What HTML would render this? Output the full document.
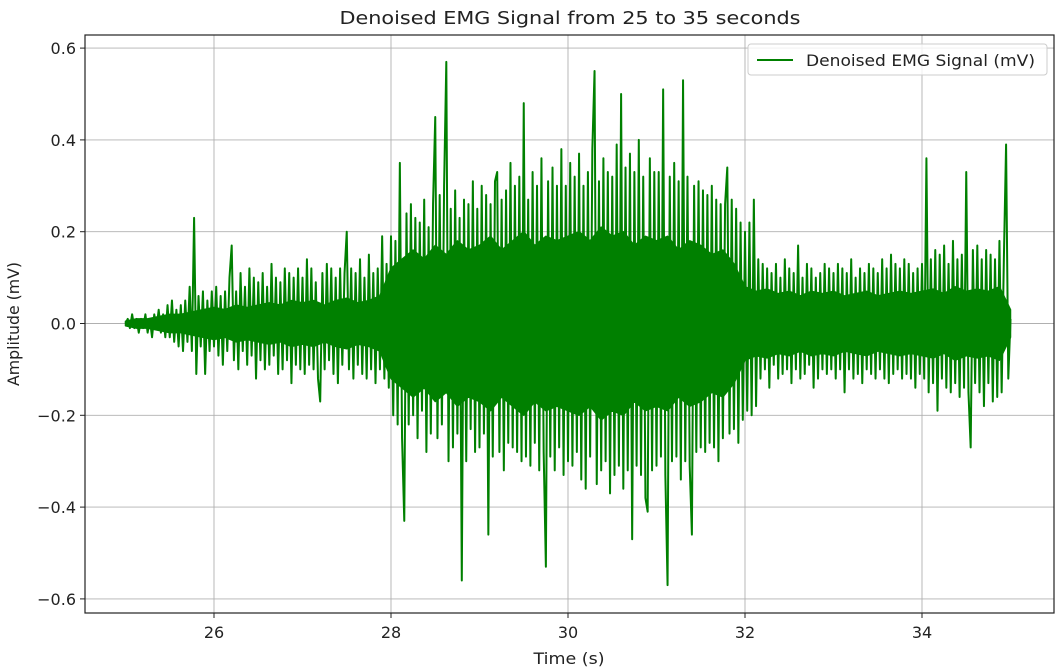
<!DOCTYPE html>
<html><head><meta charset="utf-8"><style>
body{margin:0;background:#fff;}
svg text{font-family:"DejaVu Sans","Liberation Sans",sans-serif;fill:#222;}
</style></head><body>
<svg id="chart" width="1060" height="667" viewBox="0 0 1060 667" xmlns="http://www.w3.org/2000/svg">
<text x="570" y="24" font-size="18" text-anchor="middle" textLength="461" lengthAdjust="spacingAndGlyphs">Denoised EMG Signal from 25 to 35 seconds</text>
<g id="grid"></g>
<g id="plot"></g>
<rect x="85" y="35" width="969" height="578" fill="none" stroke="#222" stroke-width="1.2"/>
<g id="ticks"></g>
<text x="569" y="664" font-size="16" text-anchor="middle" textLength="71" lengthAdjust="spacingAndGlyphs">Time (s)</text>
<text transform="translate(19,324) rotate(-90)" font-size="16" text-anchor="middle" textLength="124" lengthAdjust="spacingAndGlyphs">Amplitude (mV)</text>
<g>
<rect x="748" y="44" width="299" height="31" rx="3" fill="#fff" fill-opacity="0.8" stroke="#ccc"/>
<line x1="757" y1="60" x2="793" y2="60" stroke="#008000" stroke-width="2"/>
<text x="806" y="66" font-size="16" textLength="229" lengthAdjust="spacingAndGlyphs">Denoised EMG Signal (mV)</text>
</g>
</svg>
<script>
const xTicks=[26,28,30,32,34];
const yTicks=[0.6,0.4,0.2,0.0,-0.2,-0.4,-0.6];
const tStart=25, tStep=0.025;
const bandStep=0.125;
const bandAmp=[
0.005,0.01,0.01,0.015,0.02,0.02,0.025,0.03,
0.035,0.03,0.04,0.035,0.04,0.045,0.04,0.05,
0.045,0.05,0.04,0.05,0.055,0.045,0.05,0.06,
0.12,0.14,0.16,0.14,0.17,0.15,0.18,0.16,
0.17,0.19,0.16,0.18,0.2,0.17,0.19,0.18,
0.19,0.2,0.18,0.21,0.19,0.2,0.17,0.19,
0.18,0.19,0.16,0.18,0.17,0.15,0.16,0.13,
0.08,0.07,0.075,0.065,0.07,0.06,0.07,0.065,
0.07,0.06,0.065,0.07,0.06,0.065,0.07,0.065,
0.07,0.075,0.065,0.08,0.07,0.075,0.07,0.08,
0.03];
const values=[
0,0.01,-0.01,0.02,-0.01,0.01,-0.02,0.01,-0.01,0.02,-0.02,0.01,-0.03,0.02,-0.01,0.03,-0.02,0.02,-0.03,0.04,
-0.03,0.05,-0.04,0.03,-0.05,0.04,-0.06,0.05,-0.04,0.08,-0.06,0.23,-0.11,0.06,-0.05,0.07,-0.11,0.05,-0.06,0.07,
-0.05,0.08,-0.07,0.06,-0.09,0.07,-0.06,0.1,0.17,-0.08,0.07,-0.1,0.11,-0.06,0.08,-0.09,0.12,-0.07,0.1,-0.12,
0.09,-0.08,0.11,-0.1,0.08,-0.09,0.13,-0.07,0.1,-0.11,0.09,-0.1,0.12,-0.08,0.11,-0.13,0.1,-0.09,0.12,-0.1,
0.1,-0.11,0.14,-0.09,0.12,-0.1,0.09,-0.12,-0.17,0.11,-0.1,0.13,-0.08,0.12,-0.11,0.1,-0.13,0.12,-0.09,0.11,
0.2,-0.1,0.12,-0.12,0.11,-0.09,0.14,-0.11,0.1,-0.12,0.15,-0.1,0.11,-0.13,0.12,-0.1,0.19,-0.12,0.13,-0.14,
0.19,-0.2,0.18,-0.22,0.35,-0.25,-0.43,0.24,-0.22,0.26,-0.2,0.23,-0.25,0.22,-0.19,0.27,-0.28,0.21,-0.24,0.26,
0.45,-0.25,0.28,-0.22,0.3,0.57,-0.3,0.25,-0.27,0.29,-0.24,0.23,-0.56,0.27,-0.3,0.26,-0.23,0.31,-0.28,0.25,
-0.27,0.3,-0.24,0.28,-0.46,0.26,-0.29,0.31,0.33,-0.28,0.27,-0.32,0.29,-0.26,0.35,-0.27,0.3,-0.28,0.32,-0.3,
0.48,-0.29,0.27,-0.31,0.33,-0.26,0.3,-0.32,0.36,-0.28,-0.53,0.31,-0.29,0.34,-0.32,0.3,-0.27,0.38,-0.33,0.3,
-0.3,0.35,-0.31,0.32,-0.28,0.37,-0.34,0.3,-0.36,0.33,-0.29,0.38,0.55,-0.35,0.31,-0.32,0.36,-0.3,0.33,-0.37,
0.32,-0.33,0.39,-0.31,0.5,-0.36,0.34,-0.32,0.37,-0.47,0.33,-0.31,0.4,-0.33,0.32,-0.38,-0.41,0.36,-0.32,0.33,
-0.31,0.33,-0.29,0.51,-0.33,-0.57,0.32,-0.3,0.35,-0.29,0.31,-0.34,0.53,-0.3,0.32,-0.31,-0.46,0.3,-0.28,0.31,
-0.27,0.29,-0.28,0.28,-0.26,0.3,-0.27,0.27,-0.3,0.26,-0.25,0.26,0.34,-0.24,0.27,-0.23,0.25,-0.26,0.22,-0.21,
0.2,-0.19,0.22,-0.2,0.27,-0.18,0.14,-0.12,0.13,-0.1,0.12,-0.14,0.11,-0.09,0.13,-0.12,0.1,-0.11,0.14,-0.1,
0.12,-0.13,0.11,-0.1,0.17,-0.12,0.1,-0.11,0.13,-0.09,0.12,-0.14,0.1,-0.12,0.11,-0.1,0.13,-0.11,0.12,-0.1,
0.11,-0.12,0.13,-0.1,0.12,-0.15,0.11,-0.1,0.14,-0.12,0.1,-0.11,0.12,-0.13,0.11,-0.1,0.13,-0.11,0.12,-0.12,
0.11,-0.1,0.14,-0.12,0.12,-0.13,0.15,-0.11,0.13,-0.1,0.12,-0.12,0.14,-0.11,0.13,-0.12,0.11,-0.14,0.12,-0.11,
0.13,-0.12,0.36,-0.15,0.14,-0.13,0.16,-0.19,0.15,-0.12,0.17,-0.14,0.13,-0.15,0.18,-0.13,0.14,-0.16,0.15,-0.14,
0.33,-0.15,-0.27,0.16,-0.13,0.17,-0.15,0.14,-0.18,0.16,-0.13,0.15,-0.17,0.14,-0.16,0.18,-0.15,0.14,0.39,-0.12,
0.01
];
const NS='http://www.w3.org/2000/svg';
function xs(t){return 745+(t-32)*88.5;}
function ys(v){return 323.5-v*459;}
const grid=document.getElementById('grid'),ticks=document.getElementById('ticks'),plot=document.getElementById('plot');
function mk(tag,attrs,parent){const e=document.createElementNS(NS,tag);for(const k in attrs)e.setAttribute(k,attrs[k]);parent.appendChild(e);return e;}
xTicks.forEach(t=>{
  const g=mk('line',{x1:xs(t),x2:xs(t),y1:35,y2:613,stroke:'#b0b0b0','stroke-width':0.9},grid);
  
  
  const tk=mk('line',{x1:xs(t),x2:xs(t),y1:613,y2:618,stroke:'#222'},ticks);
  
  
  const tx=mk('text',{x:xs(t),y:638,'font-size':16,'text-anchor':'middle'},ticks);
  tx.textContent=String(t);
  
  
});
yTicks.forEach(v=>{
  const g=mk('line',{x1:85,x2:1054,y1:ys(v),y2:ys(v),stroke:'#b0b0b0','stroke-width':0.9},grid);
  
  
  const tk=mk('line',{x1:80,x2:85,y1:ys(v),y2:ys(v),stroke:'#222'},ticks);
  
  
  const tx=mk('text',{x:76,y:ys(v)+6,'font-size':16,'text-anchor':'end'},ticks);
  tx.textContent=v.toFixed(1).replace('-','\u2212');
  
  
});
let up='',lo='';
bandAmp.forEach((a,i)=>{const x=xs(tStart+i*bandStep).toFixed(2);up+=(i?'L':'M')+x+','+ys(a).toFixed(2);lo=' L'+x+','+ys(-a).toFixed(2)+lo;});
const band=mk('path',{d:up+lo+' Z',fill:'#008000',stroke:'#008000','stroke-width':1.5,'stroke-linejoin':'round'},plot);


let d='';
values.forEach((v,i)=>{d+=(i?'L':'M')+xs(tStart+i*tStep).toFixed(2)+','+ys(v).toFixed(2);});
const line=mk('path',{d:d,fill:'none',stroke:'#008000','stroke-width':2,'stroke-linejoin':'round'},plot);


</script>
</body></html>
